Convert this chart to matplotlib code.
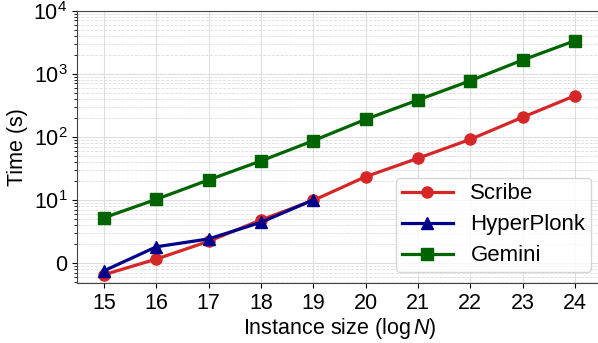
import math
import matplotlib
matplotlib.use("Agg")
import matplotlib.pyplot as plt
from matplotlib.ticker import FixedLocator, FuncFormatter, LogLocator, NullFormatter

plt.rcParams['font.family'] = ['Liberation Sans', 'DejaVu Sans']
plt.rcParams['mathtext.fontset'] = 'custom'
plt.rcParams['mathtext.rm'] = 'Liberation Sans'
plt.rcParams['mathtext.it'] = 'Liberation Sans:italic'
plt.rcParams['mathtext.bf'] = 'Liberation Sans:bold'

sizes = [15, 16, 17, 18, 19, 20, 21, 22, 23, 24]
scribe = [0.65, 1.15, 2.2, 4.8, 9.8, 23.3, 45.6, 91, 204, 448]
hp_sizes = [15, 16, 17, 18, 19]
hyperplonk = [0.75, 1.8, 2.4, 4.4, 10.0]
gemini = [5.2, 10.2, 20.7, 41.4, 86.7, 189, 383, 774, 1650, 3335]

fig = plt.figure(figsize=(5.98, 3.43), dpi=100)
ax = fig.add_axes([0.1288, 0.175, 0.878, 0.794])

ax.plot(sizes, scribe, color='#d62728', marker='o', lw=2.3, ms=8, label='Scribe')
ax.plot(hp_sizes, hyperplonk, color='#00008b', marker='^', lw=2.3, ms=8, label='HyperPlonk')
ax.plot(sizes, gemini, color='#006400', marker='s', lw=2.3, ms=8, label='Gemini')

ax.set_yscale('log')
ax.set_ylim(0.48, 1e4)
ax.set_xlim(14.483, 24.517)
ax.set_xticks(sizes)
ax.yaxis.set_major_locator(FixedLocator([1, 10, 100, 1000, 10000]))
ax.yaxis.set_major_formatter(FuncFormatter(
    lambda v, p: '0' if abs(v - 1) < 1e-9 else r'$10^{%d}$' % round(math.log10(v))))
ax.yaxis.set_minor_locator(LogLocator(base=10, subs=range(2, 10), numticks=100))
ax.yaxis.set_minor_formatter(NullFormatter())

ax.grid(True, which='major', color='#dddddd', lw=0.8)
ax.grid(True, which='minor', axis='y', color='#dddddd', lw=0.6, ls='--')
ax.tick_params(axis='both', which='major', labelsize=15.5)
ax.tick_params(axis='y', which='minor', length=2)

for s in ax.spines.values():
    s.set_color('#444444')

ax.set_xlabel(r'Instance size ($\log N$)', fontsize=15.5, labelpad=2)
ax.set_ylabel('Time (s)', fontsize=15.5)

ax.legend(loc='lower right', fontsize=16, fancybox=True, framealpha=0.8,
          borderpad=0.25, labelspacing=0.45, handlelength=2.3)

fig.savefig('out.png', dpi=100)
